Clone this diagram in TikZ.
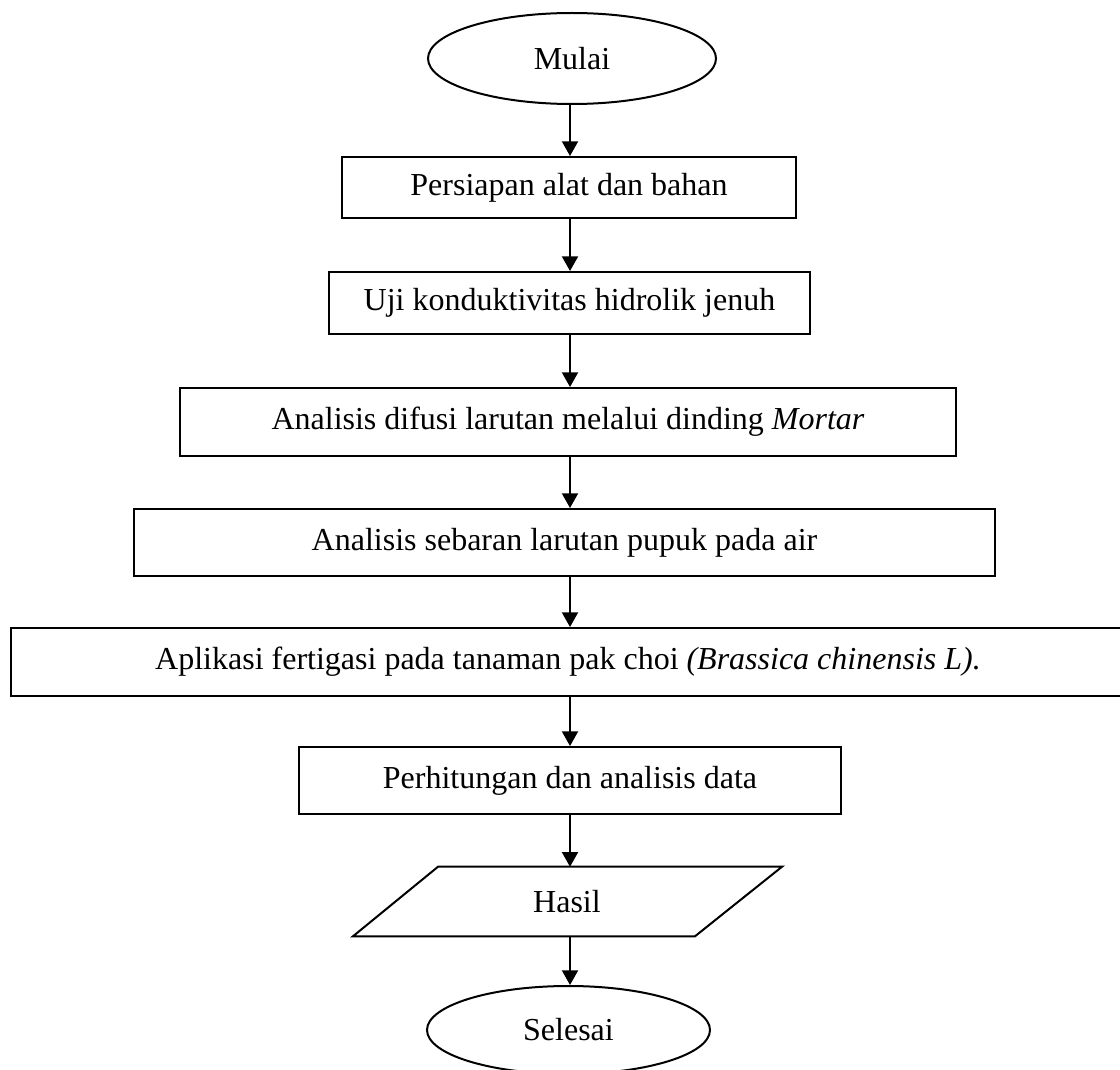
\documentclass[tikz,border=0pt]{standalone}
\usepackage{fontspec}
\setmainfont{Liberation Serif}
\usetikzlibrary{shapes.geometric,arrows.meta,calc}
\begin{document}
\begin{tikzpicture}[x=0.75pt,y=-0.75pt,
  every node/.style={font=\fontsize{24}{29}\selectfont},
  proc/.style={draw, line width=1.5pt, rectangle, inner sep=0pt},
  term/.style={draw, line width=1.5pt, ellipse, inner sep=0pt},
  arr/.style={line width=1.5pt, -{Triangle[width=12pt,length=11pt]}}]
\useasboundingbox (0,0) rectangle (1120,1070);
\coordinate (axis) at (570,0);
\node[term, minimum width=216pt, minimum height=68.25pt] (m) at (572,58.5) {Mulai};
\node[proc, minimum width=340.5pt, minimum height=45.75pt] (b1) at (569,187.5) {Persiapan alat dan bahan};
\node[proc, minimum width=360.75pt, minimum height=46.5pt] (b2) at (569.5,303) {Uji konduktivitas hidrolik jenuh};
\node[proc, minimum width=582pt, minimum height=51pt] (b3) at (568,422) {Analisis difusi larutan melalui dinding \textit{Mortar}};
\node[proc, minimum width=645.75pt, minimum height=50.25pt] (b4) at (564.5,542.5) {Analisis sebaran larutan pupuk pada air};
\node[proc, minimum width=835.5pt, minimum height=51pt] (b5) at (568,662) {Aplikasi fertigasi pada tanaman pak choi \textit{(Brassica chinensis L).}};
\node[proc, minimum width=406.5pt, minimum height=50.25pt] (b6) at (570,780.5) {Perhitungan dan analisis data};
\node[inner sep=0pt, minimum width=0pt, minimum height=51.75pt] (h) at (567,901.5) {Hasil};
\draw[line width=1.5pt, line join=miter]
  ($(h.north)+(-129,0)$) -- ($(h.north)+(215,0)$) -- ($(h.south)+(128,0)$) -- ($(h.south)+(-214,0)$) -- cycle;
\node[term, minimum width=212.25pt, minimum height=66pt] (s) at (568.5,1030) {Selesai};
\draw[arr] (m.south -| axis) -- (b1.north -| axis);
\draw[arr] (b1.south -| axis) -- (b2.north -| axis);
\draw[arr] (b2.south -| axis) -- (b3.north -| axis);
\draw[arr] (b3.south -| axis) -- (b4.north -| axis);
\draw[arr] (b4.south -| axis) -- (b5.north -| axis);
\draw[arr] (b5.south -| axis) -- (b6.north -| axis);
\draw[arr] (b6.south -| axis) -- (h.north -| axis);
\draw[arr] (h.south -| axis) -- (s.north -| axis);
\end{tikzpicture}
\end{document}
